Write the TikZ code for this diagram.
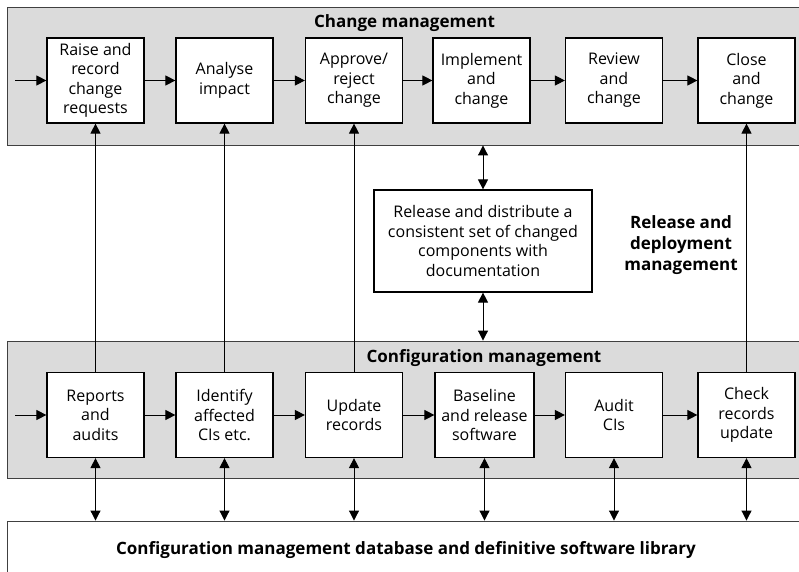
\documentclass[tikz,border=0pt]{standalone}
\usepackage{fontspec}
\setmainfont{Open Sans}
\usetikzlibrary{arrows.meta}
\tikzset{
  band/.style={
    draw=black!75,
    fill=black!14,
    line width=0.9pt,
  },
  proc box/.style={
    draw,
    fill=white,
    line width=1.2pt,
    minimum width=97,
    minimum height=85,
    inner sep=1pt,
    align=center,
    font=\fontsize{16}{19.5}\selectfont,
  },
  title/.style={
    align=center,
    font=\fontsize{17}{21}\selectfont\bfseries,
  },
}

\begin{document}
\begin{tikzpicture}[x=1pt, y=1pt, line width=1pt, >={Triangle[length=10pt,width=10pt]}]
        \useasboundingbox (0,0) rectangle (799,571);

        \node[band, minimum width=798, minimum height=138] (chg) at (406,495) {};
        \node[band, minimum width=798, minimum height=137] (cfg) at (406,161.5) {};
        \node[band, fill=white, minimum width=798, minimum height=58, title] (db) at (406,21)
          {Configuration management database and definitive software library};

        \node[title] (chgtitle) at (404.5,548) {Change management};
        \node[title] (cfgtitle) at (484,213) {Configuration management};
        \node[title] (reltitle) at (681,326) {Release and\\deployment\\management};

        \node[proc box] (raise)     at (95.5,490.5)  {Raise and\\record\\change\\requests};
        \node[proc box] (analyse)   at (224.5,490.5) {Analyse\\impact};
        \node[proc box] (approve)   at (354,490.5)   {Approve/\\reject\\change};
        \node[proc box] (implement) at (481.5,490.5) {Implement\\and\\change};
        \node[proc box] (review)    at (614,490.5)   {Review\\and\\change};
        \node[proc box] (close)     at (746.5,490.5) {Close\\and\\change};

        \node[proc box, minimum width=218, minimum height=102] (release) at (483,330)
          {Release and distribute a\\consistent set of changed\\components with\\documentation};

        \node[proc box] (reports)  at (95.5,156)  {Reports\\and\\audits};
        \node[proc box] (identify) at (224.5,156) {Identify\\affected\\CIs etc.};
        \node[proc box] (update)   at (354,156)   {Update\\records};
        \node[proc box, minimum width=99] (baseline) at (484.5,156) {Baseline\\and release\\software};
        \node[proc box] (audit)    at (614,156)   {Audit\\CIs};
        \node[proc box] (check)    at (746.5,156) {Check\\records\\update};

        \coordinate (chgin) at (15,490.5);
        \coordinate (cfgin) at (15,156);

        \draw[->] (chgin) to (raise);
        \draw[->] (cfgin) to (reports);
        \foreach \a/\b in {raise/analyse, analyse/approve, approve/implement,
                           implement/review, review/close,
                           reports/identify, identify/update, update/baseline,
                           baseline/audit, audit/check}
          \draw[->] (\a) to (\b);

        \draw[->] (reports)  to (raise);
        \draw[->] (identify) to (analyse);
        \draw[->] (update)   to (approve);
        \draw[->] (check)    to (close);

        \draw[<->] (release.north |- chg.south) to (release);
        \draw[<->] (release) to (release.south |- cfg.north);

        \foreach \n in {reports, identify, update, baseline, audit, check}
          \draw[<->] (\n) to (\n |- db.north);
      \end{tikzpicture}
\end{document}
